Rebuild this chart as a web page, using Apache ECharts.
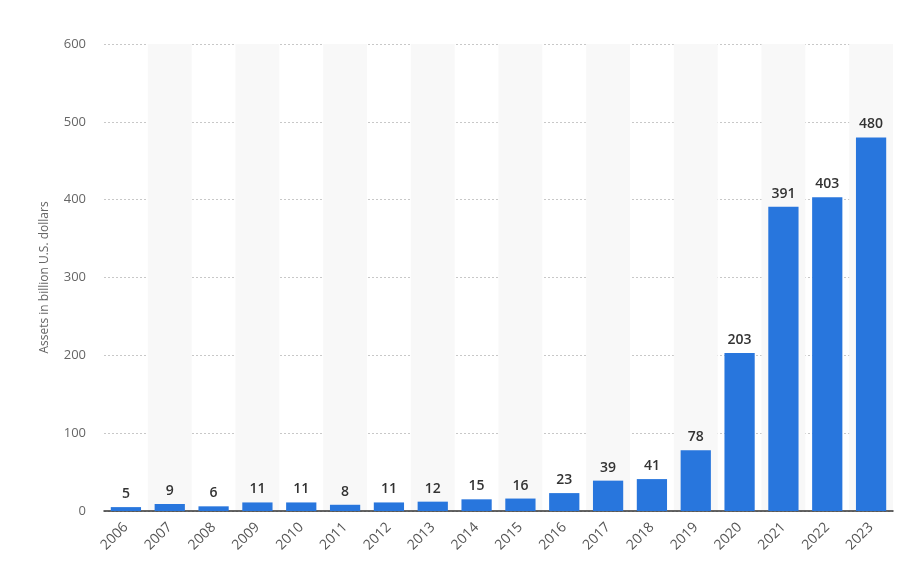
<!DOCTYPE html>
<html><head><meta charset="utf-8">
<script src="https://cdn.jsdelivr.net/npm/echarts@6/dist/echarts.min.js"></script>
<style>html,body{margin:0;padding:0;background:#fff}#c{width:903px;height:579px}</style>
</head><body><div id="c"></div>
<script>
const years = ['2006','2007','2008','2009','2010','2011','2012','2013','2014','2015','2016','2017','2018','2019','2020','2021','2022','2023'];
const assets = [5,9,6,11,11,8,11,12,15,16,23,39,41,78,203,391,403,480];
const yTicks = [0,100,200,300,400,500,600];

const chart = echarts.init(document.getElementById('c'));
chart.setOption({
  animation:false,
  grid:{left:104,right:10,top:44,bottom:68},
  xAxis:{
    type:'category', data:years,
    axisLine:{lineStyle:{color:'#333',width:1.5}},
    axisTick:{show:false},
    axisLabel:{rotate:45,color:'#555',fontFamily:'Open Sans',fontSize:14,margin:14},
    splitArea:{show:true,areaStyle:{color:['rgba(255,255,255,0)','#f8f8f8']}}
  },
  yAxis:{
    type:'value', min:0, max:600, interval:100,
    name:'Assets in billion U.S. dollars', nameLocation:'middle', nameGap:53,
    nameTextStyle:{color:'#666',fontFamily:'Open Sans',fontSize:12},
    axisLine:{show:false}, axisTick:{show:false},
    axisLabel:{color:'#666',fontFamily:'Open Sans',fontSize:13,margin:18,
      formatter:v=>yTicks.includes(v)?String(v):''},
    splitLine:{lineStyle:{color:'#c8c8c8',type:[2,2],width:1}}
  },
  series:[{
    type:'bar', data:assets, barWidth:'69%',
    itemStyle:{color:'#2876dd'},
    label:{show:true,position:'top',distance:6,color:'#333',fontWeight:600,fontFamily:'Open Sans',fontSize:14}
  }]
});
</script></body></html>
